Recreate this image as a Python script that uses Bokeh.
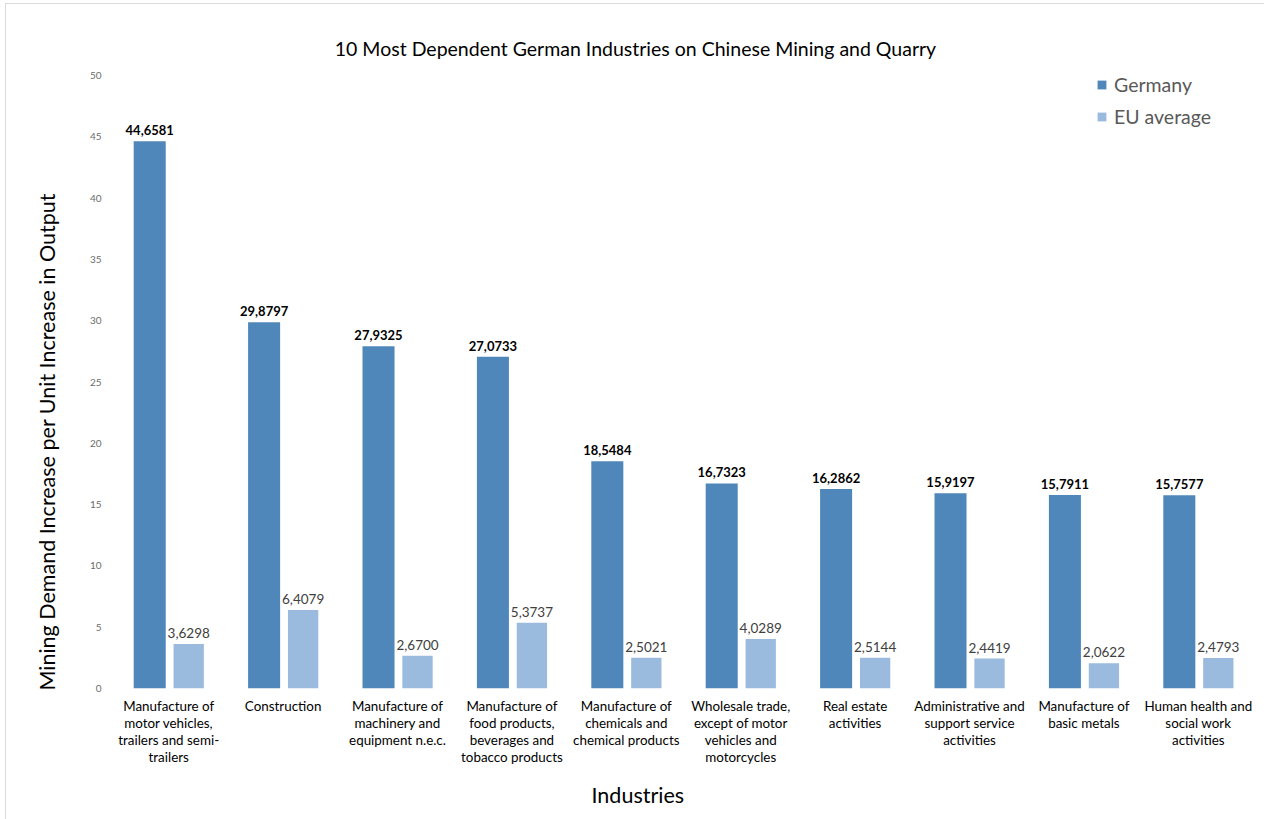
from bokeh.plotting import figure
from bokeh.models import (ColumnDataSource, FactorRange, Range1d, FixedTicker, Label,
                          Legend, LegendItem, Title)
from bokeh.core.properties import value
from bokeh.transform import dodge
from bokeh.embed import file_html
from bokeh.resources import INLINE

industries = [
    "Manufacture of\nmotor vehicles,\ntrailers and semi-\ntrailers",
    "Construction",
    "Manufacture of\nmachinery and\nequipment n.e.c.",
    "Manufacture of\nfood products,\nbeverages and\ntobacco products",
    "Manufacture of\nchemicals and\nchemical products",
    "Wholesale trade,\nexcept of motor\nvehicles and\nmotorcycles",
    "Real estate\nactivities",
    "Administrative and\nsupport service\nactivities",
    "Manufacture of\nbasic metals",
    "Human health and\nsocial work\nactivities",
]
germany = [44.6581, 29.8797, 27.9325, 27.0733, 18.5484, 16.7323, 16.2862, 15.9197, 15.7911, 15.7577]
eu_average = [3.6298, 6.4079, 2.6700, 5.3737, 2.5021, 4.0289, 2.5144, 2.4419, 2.0622, 2.4793]
y_ticks = [0, 5, 10, 15, 20, 25, 30, 35, 40, 45, 50]

FONT = "Lato"
C_DE = "#4f87ba"
C_EU = "#9abbde"

def fmt(v):
    return f"{v:.4f}".replace(".", ",")

src = ColumnDataSource(dict(
    cat=industries, de=germany, eu=eu_average,
    de_lbl=[fmt(v) for v in germany], eu_lbl=[fmt(v) for v in eu_average],
))

p = figure(width=1264, height=819, x_range=FactorRange(*industries, range_padding=0),
           y_range=Range1d(0, 54.5), output_backend="svg", toolbar_location=None,
           min_border_left=111, min_border_right=9, min_border_top=20, min_border_bottom=131)
p.x_range.factor_padding = 0
p.outline_line_color = None
p.grid.visible = False
p.background_fill_color = "white"
p.border_fill_color = None
p.styles = {
    "background": "linear-gradient(#d9d9d9, #d9d9d9) 5px 3px / 100% 1px no-repeat, "
                  "linear-gradient(#d9d9d9, #d9d9d9) 5px 3px / 1px 100% no-repeat, white"
}

r_de = p.vbar(x=dodge("cat", -0.166, range=p.x_range), top="de", width=0.28, source=src,
              fill_color=C_DE, line_color=None)
r_eu = p.vbar(x=dodge("cat", 0.175, range=p.x_range), top="eu", width=0.265, source=src,
              fill_color=C_EU, line_color=None)

p.text(x=dodge("cat", -0.166, range=p.x_range), y="de", text="de_lbl", source=src,
       text_align="center", text_baseline="bottom", y_offset=-6,
       text_font=value(FONT), text_font_size="13px", text_font_style="bold", text_color="black")
p.text(x=dodge("cat", 0.175, range=p.x_range), y="eu", text="eu_lbl", source=src,
       text_align="center", text_baseline="bottom", y_offset=-6,
       text_font=value(FONT), text_font_size="13.5px", text_color="#404040")

# y axis
ya = p.yaxis[0]
ya.ticker = FixedTicker(ticks=y_ticks)
ya.axis_line_color = None
ya.major_tick_line_color = None
ya.minor_tick_line_color = None
ya.major_tick_out = 0
ya.major_tick_in = 0
ya.major_label_standoff = 10
ya.major_label_text_font = FONT
ya.major_label_text_font_size = "10px"
ya.major_label_text_color = "#6b6b6b"

# x axis
xa = p.xaxis[0]
xa.axis_line_color = None
xa.major_tick_line_color = None
xa.minor_tick_line_color = None
xa.major_tick_out = 0
xa.major_tick_in = 0
xa.major_label_standoff = 9
xa.major_label_orientation = "horizontal"
xa.major_label_text_font = FONT
xa.major_label_text_font_size = "13.4px"
xa.major_label_text_color = "black"
xa.major_label_text_align = "center"
xa.major_label_text_line_height = 1.07

# title and axis titles
p.add_layout(Label(x=4.58, y=52.2, text="10 Most Dependent German Industries on Chinese Mining and Quarry",
                   text_align="center", text_baseline="middle", text_font=FONT,
                   text_font_size="19.5px", text_color="black"))
p.add_layout(Title(text="Mining Demand Increase per Unit Increase in Output", align="left", offset=-2,
                   standoff=53, text_font=FONT, text_font_size="21.5px",
                   text_font_style="normal", text_color="black"), "left")
p.add_layout(Title(text="Industries", align="left", offset=480, standoff=24,
                   text_font=FONT, text_font_size="21.5px",
                   text_font_style="normal", text_color="black"), "below")

legend = Legend(items=[LegendItem(label="Germany", renderers=[r_de]),
                       LegendItem(label="EU average", renderers=[r_eu])],
                location=(985, 560), orientation="vertical",
                border_line_color=None, background_fill_alpha=0,
                glyph_width=11, glyph_height=11, label_standoff=7, spacing=9,
                padding=0, margin=0,
                label_text_font=FONT, label_text_font_size="19.5px", label_text_color="#595959")
p.add_layout(legend)

open("out.html", "w").write(file_html(p, INLINE))
